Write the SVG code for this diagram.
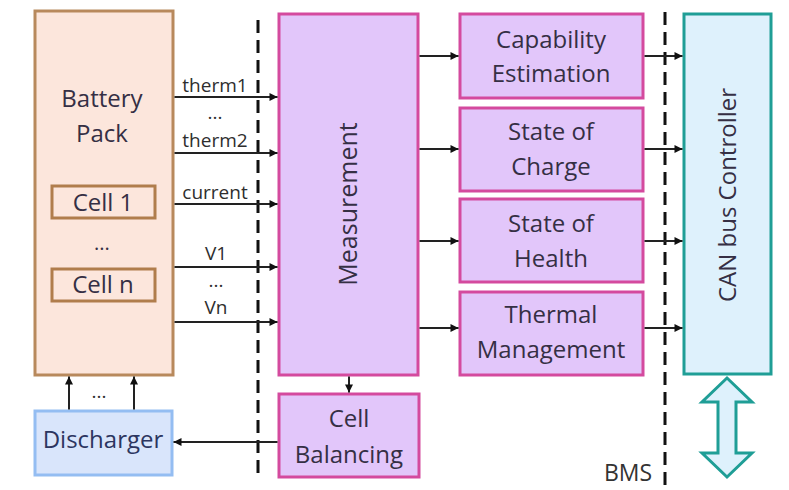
<svg xmlns="http://www.w3.org/2000/svg" width="789" height="490" viewBox="0 0 789 490">
<defs>
<style>
.t{font-family:"Open Sans","Liberation Sans",sans-serif;font-size:24px;fill:#352f44;text-anchor:middle}
.s{font-family:"Open Sans","Liberation Sans",sans-serif;font-size:19px;fill:#2e2e2e;text-anchor:middle}
.bat{fill:#fce6dc;stroke:#b8895c;stroke-width:3}
.cell{fill:none;stroke:#b07d4c;stroke-width:3}
.pur{fill:#e2c6fa;stroke:#d44a9e;stroke-width:3}
.dis{fill:#d9e5fb;stroke:#94bdf2;stroke-width:3}
.can{fill:#def1fc;stroke:#1f9e96;stroke-width:3}
.ln{stroke:#222;stroke-width:2;fill:none;marker-end:url(#ah)}
.dash{stroke:#111;stroke-width:3;stroke-dasharray:13 7;fill:none}
</style>
<marker id="ah" viewBox="0 0 10 10" refX="10" refY="5" markerWidth="10" markerHeight="8" orient="auto" markerUnits="userSpaceOnUse"><path d="M0,0 L10,5 L0,10 z" fill="#111"/></marker>
</defs>
<rect width="789" height="490" fill="#fff"/>
<g id="dividers">
<line class="dash" x1="258" y1="20" x2="258" y2="476"/>
<line class="dash" x1="665" y1="12" x2="665" y2="486"/>
</g>
<g id="battery">
<rect class="bat" x="35" y="11" width="138" height="364"/>
<text class="t" x="102" y="107">Battery</text>
<text class="t" x="102" y="142">Pack</text>
<rect class="cell" x="52" y="186" width="103" height="32"/>
<text class="t" x="103" y="211">Cell 1</text>
<text class="t" x="102" y="250" style="font-size:20px">...</text>
<rect class="cell" x="52" y="269" width="103" height="32"/>
<text class="t" x="103" y="293">Cell n</text>
</g>
<g id="measurement">
<rect class="pur" x="279" y="14" width="139" height="361"/>
<text class="t" transform="translate(357,204) rotate(-90)" style="font-size:25px">Measurement</text>
</g>
<g id="cellbalancing">
<rect class="pur" x="279" y="394" width="140" height="83"/>
<text class="t" x="349" y="427">Cell</text>
<text class="t" x="349" y="463">Balancing</text>
</g>
<g id="discharger">
<rect class="dis" x="35" y="411" width="137" height="64"/>
<text class="t" x="103" y="448" style="fill:#2c3560">Discharger</text>
</g>
<g id="capability">
<rect class="pur" x="460" y="14" width="183" height="84"/>
<text class="t" x="551" y="48">Capability</text>
<text class="t" x="551" y="82">Estimation</text>
</g>
<g id="soc">
<rect class="pur" x="460" y="108" width="183" height="83"/>
<text class="t" x="551" y="140">State of</text>
<text class="t" x="551" y="175">Charge</text>
</g>
<g id="soh">
<rect class="pur" x="460" y="199" width="183" height="83"/>
<text class="t" x="551" y="232">State of</text>
<text class="t" x="551" y="267">Health</text>
</g>
<g id="thermal">
<rect class="pur" x="460" y="292" width="183" height="83"/>
<text class="t" x="551" y="323">Thermal</text>
<text class="t" x="551" y="358">Management</text>
</g>
<g id="can">
<rect class="can" x="684" y="14" width="87" height="360"/>
<text class="t" transform="translate(736,195) rotate(-90)">CAN bus Controller</text>
<path class="can" d="M727,378 L752,402 L736,402 L736,453 L752,453 L727,477 L702,453 L718,453 L718,402 L702,402 Z"/>
</g>
<g id="bms-label">
<text class="t" x="628" y="481" style="fill:#333;font-size:23px">BMS</text>
</g>
<g id="connectors">
<line class="ln" x1="174.5" y1="97" x2="277.5" y2="97"/>
<line class="ln" x1="174.5" y1="153" x2="277.5" y2="153"/>
<line class="ln" x1="174.5" y1="204" x2="277.5" y2="204"/>
<line class="ln" x1="174.5" y1="267" x2="277.5" y2="267"/>
<line class="ln" x1="174.5" y1="322" x2="277.5" y2="322"/>
<text class="s" x="215" y="92">therm1</text>
<text class="s" x="215" y="119">...</text>
<text class="s" x="215" y="147">therm2</text>
<text class="s" x="215" y="199">current</text>
<text class="s" x="216" y="260">V1</text>
<text class="s" x="216" y="287">...</text>
<text class="s" x="216" y="314">Vn</text>
<line class="ln" x1="349" y1="376.5" x2="349" y2="392.5"/>
<line class="ln" x1="277.5" y1="442" x2="173.5" y2="442"/>
<line class="ln" x1="69" y1="409.5" x2="69" y2="376.5"/>
<line class="ln" x1="134" y1="409.5" x2="134" y2="376.5"/>
<text class="s" x="99" y="398">...</text>
<line class="ln" x1="419.5" y1="56" x2="458.5" y2="56"/>
<line class="ln" x1="419.5" y1="149" x2="458.5" y2="149"/>
<line class="ln" x1="419.5" y1="241" x2="458.5" y2="241"/>
<line class="ln" x1="419.5" y1="328" x2="458.5" y2="328"/>
<line class="ln" x1="644.5" y1="56" x2="682.5" y2="56"/>
<line class="ln" x1="644.5" y1="149" x2="682.5" y2="149"/>
<line class="ln" x1="644.5" y1="241" x2="682.5" y2="241"/>
<line class="ln" x1="644.5" y1="328" x2="682.5" y2="328"/>
</g>
</svg>
